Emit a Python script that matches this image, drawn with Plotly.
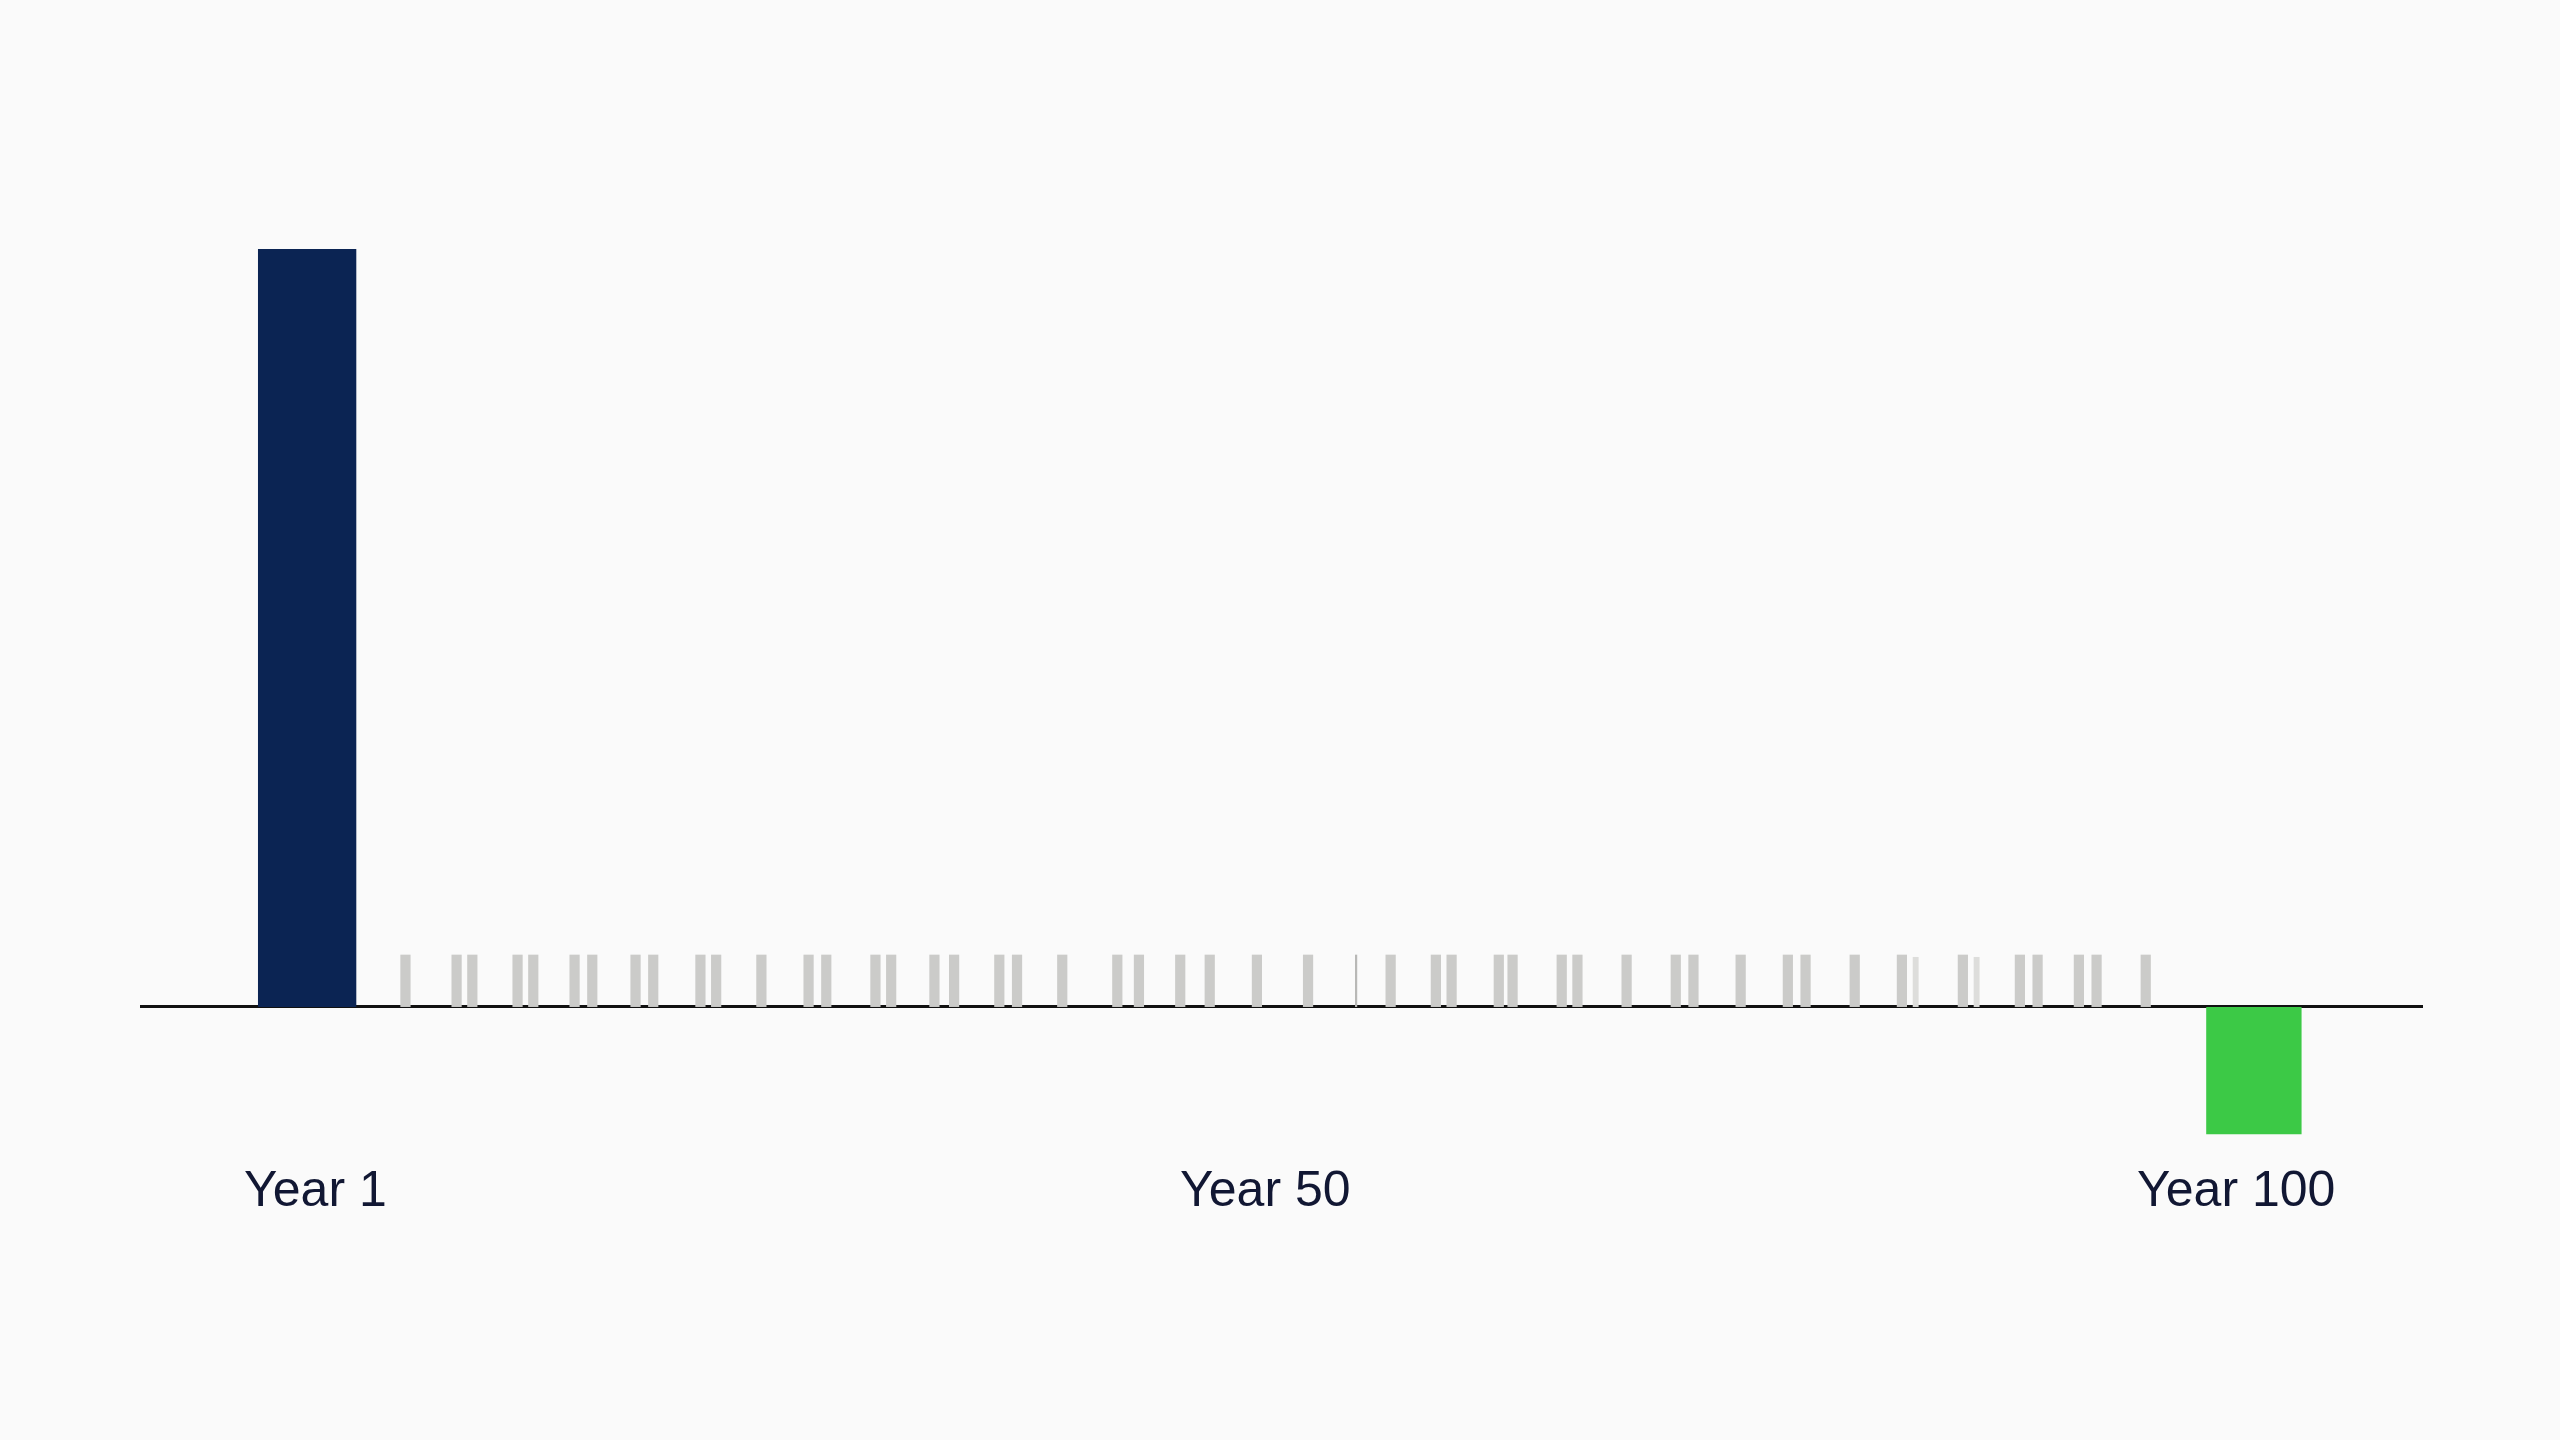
# Year 1 vs Year 100 bar sketch

import plotly.graph_objects as go

# year positions (grey marks sit between whole years)
first_year = [1]
first_value = [100]

last_year = [100]
last_value = [-16.8]

grey_years = [
    6.0, 8.6, 9.4, 11.7, 12.5, 14.6, 15.5, 17.7, 18.6, 21.0, 21.8,
    24.1, 26.5, 27.4, 29.9, 30.7, 32.9, 33.9, 36.2, 37.1, 39.4,
    42.2, 43.3, 45.4, 46.9, 49.3, 51.9, 56.1, 58.4, 59.2, 61.6,
    62.3, 64.8, 65.6, 68.1, 70.6, 71.5, 73.9, 76.3, 77.2, 79.7,
    82.1, 85.2, 88.1, 89.0, 91.1, 92.0, 94.5,
]
grey_value = [6.9] * len(grey_years)

faint_years = [82.8, 85.9]
faint_value = [6.6] * len(faint_years)

hairline_years = [54.35]
hairline_value = [6.9]

label_years = [1, 50, 100]
label_text = ["Year 1", "Year 50", "Year 100"]
label_nudge = [8, -5, -18]  # px, labels aren't quite centred on their year

fig = go.Figure()

fig.add_trace(go.Bar(
    x=grey_years, y=grey_value, width=0.52,
    marker=dict(color="#cbcbc9", line=dict(width=0)),
))
fig.add_trace(go.Bar(
    x=faint_years, y=faint_value, width=0.3,
    marker=dict(color="#dddddb", line=dict(width=0)),
))
fig.add_trace(go.Bar(
    x=hairline_years, y=hairline_value, width=0.1,
    marker=dict(color="#b8b8b6", line=dict(width=0)),
))
fig.add_trace(go.Bar(
    x=first_year, y=first_value, width=5.0,
    marker=dict(color="#0b2453", line=dict(width=0)),
))
fig.add_trace(go.Bar(
    x=last_year, y=last_value, width=4.85,
    marker=dict(color="#3cc946", line=dict(width=0)),
))

# year labels under the axis
for yr, txt, dx in zip(label_years, label_text, label_nudge):
    fig.add_annotation(
        x=yr, xref="x", y=0, yref="paper",
        text=txt, showarrow=False,
        xanchor="center", yanchor="top",
        xshift=dx, yshift=-4,
        font=dict(size=50, color="#111733"),
    )

fig.update_layout(
    width=2560,
    height=1440,
    barmode="overlay",
    showlegend=False,
    paper_bgcolor="#fafafa",
    plot_bgcolor="#fafafa",
    margin=dict(l=140, r=137, t=100, b=285),
    font=dict(family="Liberation Sans, Arial, sans-serif", color="#111733"),
    xaxis=dict(
        range=[-7.5, 108.6],
        showgrid=False,
        zeroline=False,
        showline=False,
        showticklabels=False,
        ticks="",
    ),
    yaxis=dict(
        range=[-19.53, 119.66],
        showgrid=False,
        showticklabels=False,
        zeroline=True,
        zerolinecolor="#111111",
        zerolinewidth=3,
    ),
)

# drop the page margin so the figure sits flush with the window
fig.write_html(
    "out.html",
    config={"displayModeBar": False},
    post_script="document.body.style.margin='0';",
)
